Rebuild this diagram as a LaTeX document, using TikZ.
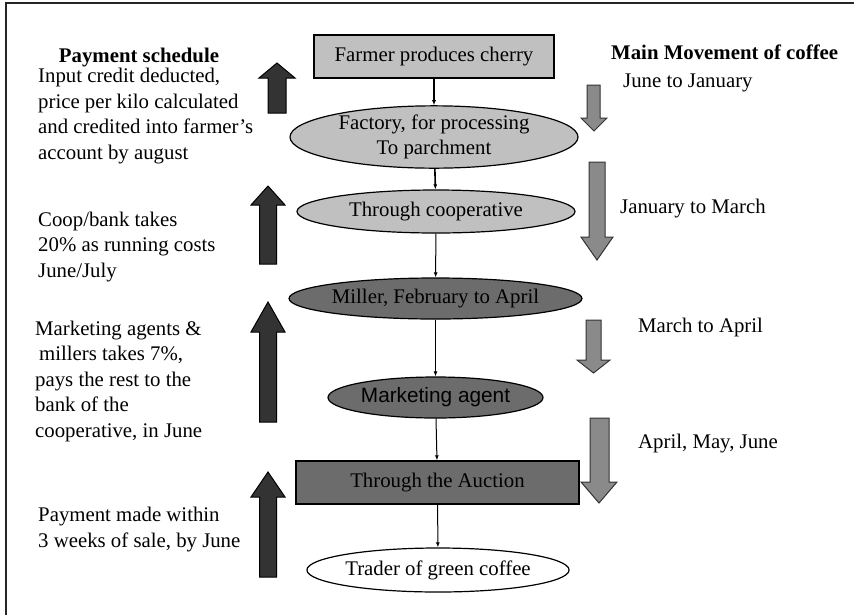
\documentclass[tikz,border=0pt]{standalone}
\usepackage{fontspec}
\setmainfont{Liberation Serif}
\newfontfamily\arialfont{Liberation Sans}
\usetikzlibrary{arrows.meta}
\definecolor{lightbox}{HTML}{C0C0C0}
\definecolor{darkbox}{HTML}{6C6C6C}
\definecolor{uparrowfill}{HTML}{333333}
\definecolor{downarrowfill}{HTML}{8A8A8A}
\tikzset{
  txt/.style={font=\fontsize{20.8}{25.5}\selectfont, inner sep=0pt, align=left, anchor=base west},
  flowbox/.style={draw=black, line width=1.2pt, font=\fontsize{20.8}{25}\selectfont, inner sep=0pt, align=center},
  flowell/.style={flowbox, ellipse},
  flowlink/.style={-{Latex[length=5pt,width=4pt]}, line width=1pt},
  uparr/.style={fill=uparrowfill, draw=black, line width=1pt},
  downarr/.style={fill=downarrowfill, draw=black!80, line width=1pt},
}
\usetikzlibrary{shapes.geometric}
\begin{document}
\begin{tikzpicture}[x=1pt,y=-1pt]
\useasboundingbox (0,0) rectangle (854,614);
\clip (0,0) rectangle (854,614);
\fill[white] (0,0) rectangle (854,614);
\draw[line width=2.2pt, black!85] (6,3) rectangle (880,640);

% flow nodes
\node[flowbox, fill=lightbox, minimum width=240pt, minimum height=43pt] (farmer) at (434,56.5) {Farmer produces cherry};
\node[flowell, fill=lightbox, minimum width=288pt, minimum height=50pt] (factory) at (434,137) {Factory, for processing\\To parchment};
\node[flowell, fill=lightbox, minimum width=278pt, minimum height=43pt] (coop) at (436,211.5) {Through cooperative};
\node[flowell, fill=darkbox, minimum width=257pt, minimum height=41pt] (miller) at (435.5,298.5) {Miller, February to April};
\node[flowell, fill=darkbox, minimum width=215pt, minimum height=41pt, font=\arialfont\fontsize{20.8}{25}\selectfont] (agent) at (435.5,397.5) {Marketing agent};
\node[flowbox, fill=darkbox, minimum width=283pt, minimum height=43pt] (auction) at (437.5,482.5) {Through the Auction};
\node[flowell, fill=white, minimum width=232pt, minimum height=44pt] (trader) at (438,570) {Trader of green coffee};

\draw[flowlink, line width=1.6pt] (farmer) -- (factory);
\draw[flowlink, line width=1.6pt] (factory) -- (coop);
\draw[flowlink] (coop) -- (miller);
\draw[flowlink] (miller) -- (agent);
\draw[flowlink] (agent) -- (auction);
\draw[flowlink] (auction) -- (trader);

% up arrows (payment)
\filldraw[uparr] (268,113) -- (268,78) -- (259,78) -- (277,63) -- (295,78) -- (286,78) -- (286,113) -- cycle;
\filldraw[uparr] (259.5,264) -- (259.5,205) -- (251,205) -- (268,186) -- (285,205) -- (276.5,205) -- (276.5,264) -- cycle;
\filldraw[uparr] (259.5,422) -- (259.5,332) -- (251,332) -- (268,302) -- (285,332) -- (276.5,332) -- (276.5,422) -- cycle;
\filldraw[uparr] (259.5,577) -- (259.5,497) -- (251,497) -- (268,472) -- (285,497) -- (276.5,497) -- (276.5,577) -- cycle;

% down arrows (movement)
\filldraw[downarr] (587,85) -- (600,85) -- (600,118) -- (607,118) -- (594,131) -- (581,118) -- (587,118) -- cycle;
\filldraw[downarr] (589,162) -- (605,162) -- (605,237) -- (613,237) -- (597,260) -- (581,237) -- (589,237) -- cycle;
\filldraw[downarr] (586,320) -- (601,320) -- (601,360) -- (610,360) -- (593.5,373) -- (577,360) -- (586,360) -- cycle;
\filldraw[downarr] (590,418) -- (609,418) -- (609,482) -- (617,482) -- (599,503) -- (581,482) -- (590,482) -- cycle;

% left texts (anchored at the baseline of the last line)
\node[txt, font=\bfseries\fontsize{20.8}{25.5}\selectfont, anchor=base] (payhead) at (139,62) {Payment schedule};
\node[txt] (pay1) at (38,159) {Input credit deducted,\\price per kilo calculated\\and credited into farmer’s\\account by august};
\node[txt] (pay2) at (38,277) {Coop/bank takes\\20\% as running costs\\June/July};
\node[txt] (pay3) at (35,437) {Marketing agents \&\\\hspace{4pt}millers takes 7\%,\\pays the rest to the\\bank of the\\cooperative, in June};
\node[txt] (pay4) at (38,547) {Payment made within\\3 weeks of sale, by June};

% right texts
\node[txt, font=\bfseries\fontsize{20.8}{25.5}\selectfont] (movehead) at (611,59) {Main Movement of coffee};
\node[txt] (mv1) at (623,87) {June to January};
\node[txt] (mv2) at (620,213) {January to March};
\node[txt] (mv3) at (638,332) {March to April};
\node[txt] (mv4) at (638,448) {April, May, June};
\end{tikzpicture}
\end{document}
